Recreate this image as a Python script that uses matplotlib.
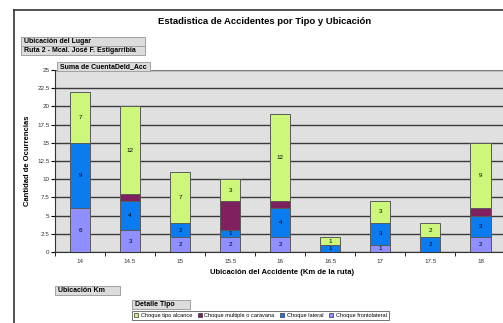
import numpy as np
import matplotlib.pyplot as plt
from matplotlib.patches import Rectangle

plt.rcParams['font.family'] = ['Liberation Sans', 'DejaVu Sans']

# datos
km = ["14", "14.5", "15", "15.5", "16", "16.5", "17", "17.5", "18"]
frontolateral = [6, 3, 2, 2, 2, 0, 1, 0, 2]
lateral = [9, 4, 2, 1, 4, 1, 3, 2, 3]
multiple = [0, 1, 0, 4, 1, 0, 0, 0, 1]
alcance = [7, 12, 7, 3, 12, 1, 3, 2, 9]

col_front = '#8f8fff'
col_lat = '#0a7cf0'
col_mult = '#80205e'
col_alc = '#ccf77a'

W, H = 503, 323
fig = plt.figure(figsize=(W / 100, H / 100), dpi=100)


def fx(px):
    return px / W


def fy(py):
    return 1 - py / H


# marco exterior
fig.add_artist(plt.Line2D([fx(14), fx(14)], [fy(10), 0], color='#333333', lw=1.2))
fig.add_artist(plt.Line2D([fx(14), 1], [fy(10), fy(10)], color='#333333', lw=1.2))

ax = fig.add_axes([fx(55), fy(252), 1 - fx(55) + 0.01, fy(70) - fy(252)])
ax.set_facecolor('#e0e0e0')

x = np.arange(len(km))
w = 0.4
b1 = np.array(frontolateral)
b2 = b1 + np.array(lateral)
b3 = b2 + np.array(multiple)

series = [
    (frontolateral, np.zeros(len(km)), col_front, True),
    (lateral, b1, col_lat, True),
    (multiple, b2, col_mult, False),
    (alcance, b3, col_alc, True),
]
for vals, bottom, c, lab in series:
    vals = np.array(vals)
    ax.bar(x, vals, w, bottom=bottom, color=c, edgecolor='#5a5a5a', linewidth=0.7, zorder=3)
    if lab:
        for xi, v, b in zip(x, vals, bottom):
            if v > 0:
                ax.text(xi, b + v / 2, str(v), ha='center', va='center', fontsize=4.5, zorder=4)

ax.set_ylim(0, 25)
ax.set_xlim(-0.5, len(km) - 0.5 + 0.05)
yt = np.arange(0, 25.1, 2.5)
ax.set_yticks(yt)
ax.set_yticklabels(['%g' % v for v in yt], fontsize=4.5, color='#333333')
ax.grid(axis='y', color='#3a3a3a', lw=1.0, zorder=1)
ax.set_xticks(x)
ax.set_xticklabels(km, fontsize=4.5, color='#333333')
ax.tick_params(axis='x', length=0, pad=5)
ax.set_xticks(np.arange(-0.5, len(km) + 0.5, 1), minor=True)
ax.tick_params(axis='x', which='minor', length=3, direction='out')
ax.tick_params(axis='y', length=3, pad=1)
for s in ['top', 'right']:
    ax.spines[s].set_visible(False)
ax.spines['left'].set_color('#333333')
ax.spines['bottom'].set_color('#333333')
ax.axhline(25, color='#888888', lw=1.2, zorder=2)

fig.text(fx(265), fy(22), 'Estadistica de Accidentes por Tipo y Ubicación', ha='center', va='center',
         fontsize=6.8, fontweight='bold')
fig.text(fx(28), fy(161), 'Cantidad de Ocurrencias', rotation=90, ha='center', va='center',
         fontsize=5.5, fontweight='bold')
fig.text(fx(282), fy(273), 'Ubicación del Accidente (Km de la ruta)', ha='center', va='center',
         fontsize=5.5, fontweight='bold')


def caja(x0, y0, x1, y1, texto):
    fig.add_artist(Rectangle((fx(x0), fy(y1)), fx(x1 - x0), (y1 - y0) / H, facecolor='#dcdcdc',
                             edgecolor='#a0a0a0', lw=0.7))
    fig.text(fx(x0 + 3), fy((y0 + y1) / 2), texto, ha='left', va='center', fontsize=5, fontweight='bold')


caja(21, 37, 145, 46, 'Ubicación del Lugar')
caja(21, 46, 145, 55, 'Ruta 2 - Mcal. José F. Estigarribia')
caja(57, 62, 150, 71, 'Suma de CuentaDeld_Acc')
caja(55, 286, 120, 295, 'Ubicación Km')
caja(132, 300, 190, 309, 'Detalle Tipo')

handles = [Rectangle((0, 0), 1, 1, facecolor=c, edgecolor='#333333', lw=0.5)
           for c in [col_alc, col_mult, col_lat, col_front]]
labels = ['Choque tipo alcance', 'Choque multiple o caravana', 'Choque lateral', 'Choque frontolateral']
leg = fig.legend(handles, labels, loc='center left', bbox_to_anchor=(fx(132), fy(315.5)), ncol=4,
                 fontsize=4.1, frameon=True, fancybox=False, handlelength=0.7, handleheight=0.7,
                 handletextpad=0.5, columnspacing=1.0, borderpad=0.3, borderaxespad=0)
leg.get_frame().set_edgecolor('#333333')
leg.get_frame().set_linewidth(0.6)

fig.savefig('out.png', dpi=100)
